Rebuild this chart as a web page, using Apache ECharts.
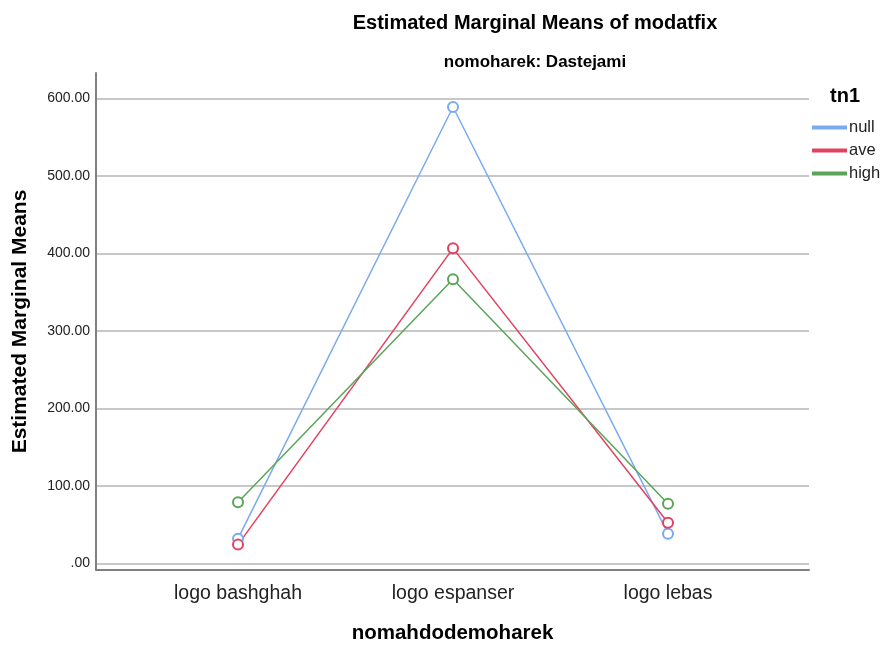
<!DOCTYPE html>
<html><head><meta charset="utf-8">
<script src="https://cdn.jsdelivr.net/npm/echarts@6/dist/echarts.min.js"></script>
<style>html,body{margin:0;padding:0;background:#fff}#c{width:880px;height:645px}</style>
</head><body><div id="c"></div>
<script>
const categories = ['logo bashghah', 'logo espanser', 'logo lebas'];
const seriesNames = ['null', 'ave', 'high'];
const nullValues = [31.8, 588.8, 38.2];
const aveValues = [24.1, 406.4, 52.4];
const highValues = [78.9, 366.5, 76.8];
const yTicks = [0, 100, 200, 300, 400, 500, 600];
const colors = ['#7AAAF0', '#E2415F', '#5AA55A'];

const font = 'Arial, "Liberation Sans", sans-serif';
const chart = echarts.init(document.getElementById('c'));
const mkSeries = (name, data, i) => ({
  name, type: 'line', data, xAxisIndex: 2, yAxisIndex: 2,
  symbol: 'emptyCircle', symbolSize: 10,
  lineStyle: { color: colors[i], width: 1.5 },
  itemStyle: { color: colors[i], borderColor: colors[i], borderWidth: 1.5 },
  emphasis: { disabled: true }
});
chart.setOption({
  animation: false,
  title: [
    { text: 'Estimated Marginal Means of modatfix', left: 530, top: 8, textAlign: 'center',
      textStyle: { fontFamily: font, fontSize: 20, fontWeight: 'bold', color: '#000' } },
    { text: 'nomoharek: Dastejami', left: 530, top: 49, textAlign: 'center',
      textStyle: { fontFamily: font, fontSize: 17, fontWeight: 'bold', color: '#000' } },
    { text: 'tn1', left: 825, top: 81,
      textStyle: { fontFamily: font, fontSize: 20, fontWeight: 'bold', color: '#000' } }
  ],
  legend: {
    orient: 'vertical', left: 807, top: 114, itemWidth: 33, itemHeight: 2, itemGap: 6,
    icon: 'rect', data: seriesNames,
    textStyle: { fontFamily: font, fontSize: 16.5, color: '#222', padding: [0, 0, 0, -2] }
  },
  grid: [
    { left: 96, right: 71, top: 98.3, height: 465, containLabel: false, outerBoundsMode: 'none' },
    { left: 96, right: 71, top: 73, height: 497, containLabel: false, outerBoundsMode: 'none' },
    { left: 130.5, width: 645, top: 98.3, height: 465, containLabel: false, outerBoundsMode: 'none' }
  ],
  xAxis: [
    { type: 'value', gridIndex: 0, show: false, min: 0, max: 1 },
    { type: 'value', gridIndex: 1, min: 0, max: 1,
      axisLine: { show: true, onZero: false, lineStyle: { color: '#808080', width: 2 } },
      axisTick: { show: false }, axisLabel: { show: false }, splitLine: { show: false },
      name: 'nomahdodemoharek', nameLocation: 'middle', nameGap: 53,
      nameTextStyle: { fontFamily: font, fontSize: 20.5, fontWeight: 'bold', color: '#000' } },
    { type: 'category', gridIndex: 2, data: categories, boundaryGap: true,
      axisLine: { show: false }, axisTick: { show: false },
      axisLabel: { fontFamily: font, fontSize: 19.5, color: '#222', margin: 20 } }
  ],
  yAxis: [
    { type: 'value', gridIndex: 0, min: 0, max: 600, interval: 100,
      axisLine: { show: false }, axisTick: { show: false },
      axisLabel: { fontFamily: font, fontSize: 14, color: '#222', margin: 6,
        formatter: v => yTicks.includes(v) ? (v === 0 ? '.00' : v.toFixed(2)) : '' },
      splitLine: { show: true, lineStyle: { color: '#C8C8C8', width: 2 } } },
    { type: 'value', gridIndex: 1, min: 0, max: 1,
      axisLine: { show: true, onZero: false, lineStyle: { color: '#808080', width: 2 } },
      axisTick: { show: false }, axisLabel: { show: false }, splitLine: { show: false },
      name: 'Estimated Marginal Means', nameLocation: 'middle', nameGap: 65,
      nameTextStyle: { fontFamily: font, fontSize: 21, fontWeight: 'bold', color: '#000' } },
    { type: 'value', gridIndex: 2, min: 0, max: 600, show: false }
  ],
  series: [
    mkSeries(seriesNames[0], nullValues, 0),
    mkSeries(seriesNames[1], aveValues, 1),
    mkSeries(seriesNames[2], highValues, 2)
  ]
});
</script></body></html>
